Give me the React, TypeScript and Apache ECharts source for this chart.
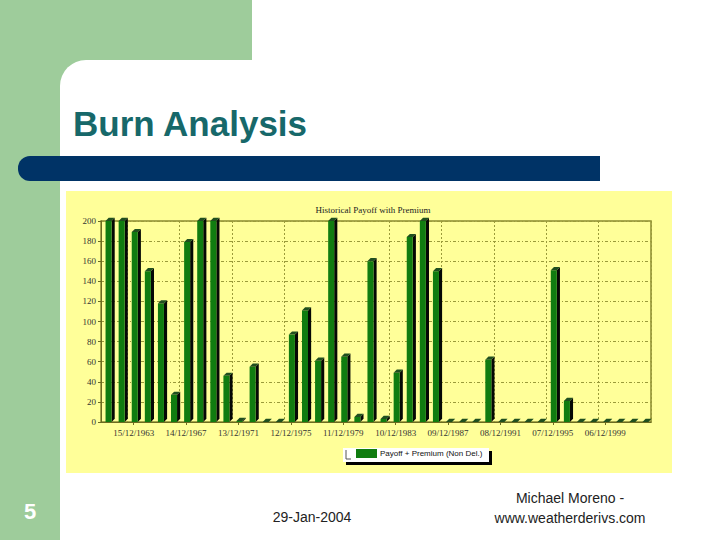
import React, { useEffect, useRef } from "react";
import * as echarts from "echarts";

const categories = [
  "15/12/1961","15/12/1962","15/12/1963","14/12/1964","14/12/1965","14/12/1966","14/12/1967",
  "13/12/1968","13/12/1969","13/12/1970","13/12/1971","12/12/1972","12/12/1973","12/12/1974",
  "12/12/1975","11/12/1976","11/12/1977","11/12/1978","11/12/1979","10/12/1980","10/12/1981",
  "10/12/1982","10/12/1983","09/12/1984","09/12/1985","09/12/1986","09/12/1987","08/12/1988",
  "08/12/1989","08/12/1990","08/12/1991","07/12/1992","07/12/1993","07/12/1994","07/12/1995",
  "06/12/1996","06/12/1997","06/12/1998","06/12/1999","05/12/2000","05/12/2001","05/12/2002",
];

const payoffValues = [
  200, 200, 189, 150, 118, 27, 179, 200, 200, 46, 1, 55,
  0, 0, 87, 111, 61, 200, 65, 5, 160, 3, 49, 184,
  200, 150, 0, 0, 0, 62, 0, 0, 0, 0, 151, 21,
  0, 0, 0, 0, 0, 0,
];

const seriesName = "Payoff + Premium (Non Del.)";
const chartTitle = "Historical Payoff with Premium";
const slideTitle = "Burn Analysis";
const yTicks = { min: 0, max: 200, interval: 20 };

const GREEN = "#107c10";
const SIDE = "#050805";
const CAP = "#1f4f1f";
const OLIVE = "#9a9a3a";
const SLIDE_GREEN = "#9ecc9b";

const labelEvery = (i: number) => i % 4 === 2;

export default function App() {
  const ref = useRef<HTMLDivElement>(null);

  useEffect(() => {
    if (!ref.current) return;
    const chart = echarts.init(ref.current, null, { renderer: "svg" });

    const option: any = {
      animation: false,
      backgroundColor: "#ffffff",
      title: {
        text: chartTitle,
        left: 368,
        top: 200,
        textAlign: "center",
        textStyle: {
          fontFamily: "Liberation Serif",
          fontSize: 9,
          fontWeight: "normal",
          color: "#222222",
        },
      },
      legend: {
        data: [{ name: seriesName, icon: "rect" }],
        left: 356,
        top: 449,
        padding: 0,
        itemWidth: 21,
        itemHeight: 9,
        z: 10,
        textStyle: {
          fontFamily: "Liberation Sans",
          fontSize: 8,
          color: "#111111",
          padding: [0, 0, 0, -2],
        },
      },
      grid: {
        left: 101,
        right: 69,
        top: 221,
        bottom: 118,
        show: true,
        backgroundColor: "transparent",
        borderColor: "#8a8a30",
        borderWidth: 1.5,
      },
      xAxis: {
        type: "category",
        data: categories,
        axisLine: { show: true, lineStyle: { color: "#6b6b20" } },
        axisTick: {
          show: true,
          alignWithLabel: true,
          interval: (i: number) => labelEvery(i),
          lineStyle: { color: "#6b6b20" },
          length: 3,
        },
        axisLabel: {
          interval: (i: number) => labelEvery(i),
          fontFamily: "Liberation Serif",
          fontSize: 9,
          color: "#333333",
          margin: 6,
        },
        splitLine: {
          show: true,
          interval: (i: number) => labelEvery(i),
          lineStyle: { color: OLIVE, type: [2, 2], width: 1 },
        },
      },
      yAxis: {
        type: "value",
        min: yTicks.min,
        max: yTicks.max,
        interval: yTicks.interval,
        axisLine: { show: true, lineStyle: { color: "#6b6b20" } },
        axisTick: { show: true, length: 3, lineStyle: { color: "#6b6b20" } },
        axisLabel: {
          fontFamily: "Liberation Serif",
          fontSize: 9,
          color: "#333333",
          margin: 5,
        },
        splitLine: {
          show: true,
          lineStyle: { color: OLIVE, type: [3, 2, 1, 2], width: 1 },
        },
      },
      series: [
        {
          type: "custom",
          name: seriesName,
          itemStyle: { color: GREEN },
          encode: { x: 0, y: 1 },
          data: payoffValues.map((v, i) => [i, v]),
          z: 5,
          renderItem: (params: any, api: any) => {
            const idx = api.value(0);
            const val = api.value(1);
            const top = api.coord([idx, val]);
            const base = api.coord([idx, 0]);
            const band = api.size([1, 0])[0];
            const w = band * 0.46;
            const d = band * 0.24;
            const x0 = top[0] - 2;
            const x1 = x0 + w;
            const yT = top[1];
            const yB = base[1];
            return {
              type: "group",
              children: [
                {
                  type: "polygon",
                  shape: { points: [[x1, yT], [x1 + d, yT - d], [x1 + d, yB - d], [x1, yB]] },
                  style: { fill: SIDE },
                },
                {
                  type: "rect",
                  shape: { x: x0, y: yT, width: w, height: Math.max(0, yB - yT) },
                  style: { fill: GREEN },
                },
                {
                  type: "polygon",
                  shape: { points: [[x0, yT], [x0 + d, yT - d], [x1 + d, yT - d], [x1, yT]] },
                  style: { fill: CAP },
                },
              ],
            };
          },
        },
      ],
      graphic: [
        { type: "rect", z: -20, shape: { x: 0, y: 0, width: 252, height: 60 }, style: { fill: SLIDE_GREEN } },
        { type: "rect", z: -20, shape: { x: 0, y: 0, width: 60, height: 540 }, style: { fill: SLIDE_GREEN } },
        { type: "rect", z: -20, shape: { x: 0, y: 0, width: 92, height: 92 }, style: { fill: SLIDE_GREEN } },
        { type: "rect", z: -19, shape: { x: 60, y: 60, width: 660, height: 480, r: [26, 0, 0, 0] }, style: { fill: "#ffffff" } },
        { type: "rect", z: -18, shape: { x: 18, y: 156, width: 582, height: 25, r: [12, 0, 0, 12] }, style: { fill: "#003366" } },
        { type: "rect", z: -18, shape: { x: 66, y: 191, width: 606, height: 282 }, style: { fill: "#ffff99" } },
        { type: "rect", z: 3, shape: { x: 346, y: 451, width: 146, height: 14 }, style: { fill: "#000000" } },
        { type: "rect", z: 3, shape: { x: 343, y: 448, width: 146, height: 14 }, style: { fill: "#ffffff" } },
        { type: "polyline", z: 4, shape: { points: [[346, 450], [346, 459], [351, 459]] }, style: { stroke: "#555555", lineWidth: 1, fill: null } },
        {
          type: "text", z: 5, x: 73, y: 123,
          style: { text: slideTitle, fill: "#17686a", font: "bold 35px 'Liberation Sans', Arial, sans-serif", textVerticalAlign: "middle" },
        },
        {
          type: "text", z: 5, x: 30, y: 511,
          style: { text: "5", fill: "#ffffff", font: "bold 22px 'Liberation Sans', Arial, sans-serif", textAlign: "center", textVerticalAlign: "middle" },
        },
        {
          type: "text", z: 5, x: 312, y: 517,
          style: { text: "29-Jan-2004", fill: "#222222", font: "14px 'Liberation Sans', Arial, sans-serif", textAlign: "center", textVerticalAlign: "middle" },
        },
        {
          type: "text", z: 5, x: 570, y: 498,
          style: { text: "Michael Moreno -", fill: "#222222", font: "14px 'Liberation Sans', Arial, sans-serif", textAlign: "center", textVerticalAlign: "middle" },
        },
        {
          type: "text", z: 5, x: 570, y: 518,
          style: { text: "www.weatherderivs.com", fill: "#222222", font: "14px 'Liberation Sans', Arial, sans-serif", textAlign: "center", textVerticalAlign: "middle" },
        },
      ],
    };

    chart.setOption(option);
    return () => chart.dispose();
  }, []);

  return (
    <div
      ref={ref}
      style={{ position: "fixed", left: 0, top: 0, width: 720, height: 540 }}
    />
  );
}
